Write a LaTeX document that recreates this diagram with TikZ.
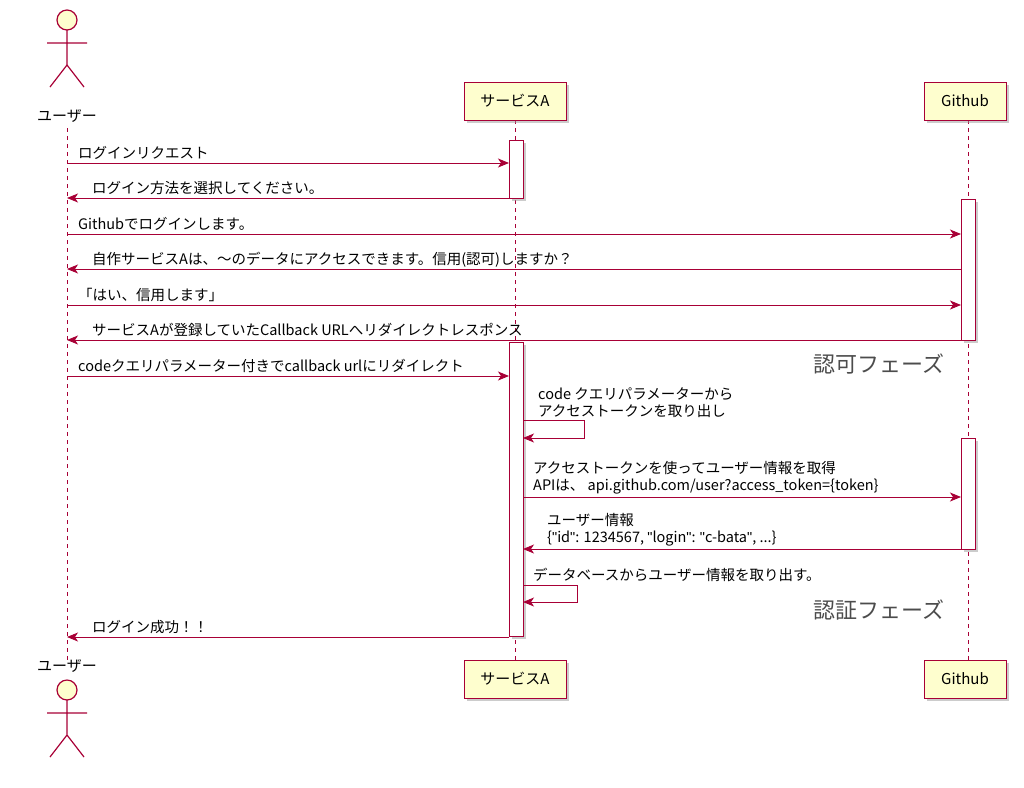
\documentclass[tikz,border=0pt]{standalone}
\usepackage{fontspec}
\setmainfont{Noto Sans CJK JP}
\newfontfamily\latinq{Liberation Sans}
\usetikzlibrary{arrows.meta,shadows}
\definecolor{pu}{HTML}{A80036}
\definecolor{bx}{HTML}{FEFECE}
\newcommand{\dq}{{\latinq\symbol{34}}}
\begin{document}
\begin{tikzpicture}[x=1pt,y=-1pt,
 part/.style={draw=pu,fill=bx,line width=1pt,minimum height=38pt,inner xsep=8pt,font=\fontsize{15}{17}\selectfont,drop shadow={shadow xshift=3pt,shadow yshift=-3pt,fill=black!40}},
 act/.style={draw=pu,fill=white,line width=1pt,drop shadow={shadow xshift=3pt,shadow yshift=-3pt,fill=black!40}},
 life/.style={draw=pu,dashed,dash pattern=on 4pt off 4pt,line width=0.8pt},
 msg/.style={draw=pu,line width=0.9pt,-{Stealth[length=11pt,width=9pt,inset=3pt]}},
 lbl/.style={anchor=base west,inner sep=0pt,font=\fontsize{14.5}{17}\selectfont,align=left},
 mlbl/.style={anchor=south west,inner sep=0pt,font=\fontsize{14.5}{17}\selectfont,align=left},
 phase/.style={anchor=base east,inner sep=0pt,text=black!70,font=\fontsize{22}{26}\selectfont},
 actor/.style={draw=pu,fill=bx,line width=1.2pt}]
\useasboundingbox (0,0) rectangle (1024,787);
% lifelines
\draw[life] (67,128) -- (67,660);
\draw[life] (515,120) -- (515,660);
\draw[life] (968,120) -- (968,660);
% participants
\node[part,minimum width=102pt] (a1) at (515,101) {サービスA};
\node[part,minimum width=82pt] (g1) at (965,101) {Github};
\node[part,minimum width=102pt] (a2) at (515,679) {サービスA};
\node[part,minimum width=82pt] (g2) at (965,679) {Github};
% actors
\foreach \y/\n in {0/top,670/bot}{
 \draw[actor] (67,20+\y) circle (10);
 \draw[pu,line width=1.2pt] (67,30+\y) -- (67,65+\y) (47,43+\y) -- (87,43+\y)
   (67,65+\y) -- (50,87+\y) (67,65+\y) -- (84,87+\y);
}
\node[font=\fontsize{15}{17}\selectfont] (u1) at (67,116) {ユーザー};
\node[font=\fontsize{15}{17}\selectfont] (u2) at (67,666) {ユーザー};
% activations
\draw[act] (509,140) rectangle (523,198);
\draw[act] (961,199) rectangle (975,340);
\draw[act] (509,342) rectangle (523,636);
\draw[act] (961,438) rectangle (975,549);
% coordinates
\coordinate (U1) at (67,163); \coordinate (A1) at (509,163);
\coordinate (U2) at (67,198); \coordinate (A2) at (509,198);
\coordinate (U3) at (67,234); \coordinate (G3) at (961,234);
\coordinate (U4) at (67,269); \coordinate (G4) at (961,269);
\coordinate (U5) at (67,305); \coordinate (G5) at (961,305);
\coordinate (U6) at (67,340); \coordinate (G6) at (961,340);
\coordinate (U7) at (67,376); \coordinate (A7) at (509,376);
\coordinate (A8) at (523,420); \coordinate (A8b) at (523,438);
\coordinate (A9) at (523,497); \coordinate (G9) at (961,497);
\coordinate (G10) at (961,549); \coordinate (A10) at (523,549);
\coordinate (A11) at (523,585); \coordinate (A11b) at (523,602);
\coordinate (A12) at (509,637); \coordinate (U12) at (67,637);
\draw[msg] (U1) -- (A1);
\node[lbl] at (78,158) {ログインリクエスト};
\draw[msg] (A2) -- (U2);
\node[lbl] at (92,193) {ログイン方法を選択してください。};
\draw[msg] (U3) -- (G3);
\node[lbl] at (78,229) {Githubでログインします。};
\draw[msg] (G4) -- (U4);
\node[lbl] at (92,264) {自作サービスAは、〜のデータにアクセスできます。信用(認可)しますか？};
\draw[msg] (U5) -- (G5);
\node[lbl] at (78,300) {「はい、信用します」};
\draw[msg] (G6) -- (U6);
\node[lbl] at (92,335) {サービスAが登録していたCallback URLへリダイレクトレスポンス};
\draw[msg] (U7) -- (A7);
\node[lbl] at (78,371) {codeクエリパラメーター付きでcallback urlにリダイレクト};
\node[phase] at (945,372) {認可フェーズ};
\draw[msg] (A8) -- (584,420) -- (584,438) -- (A8b);
\node[mlbl] at (538,418) {code クエリパラメーターから\\アクセストークンを取り出し};
\draw[msg] (A9) -- (G9);
\node[mlbl] at (533,494) {アクセストークンを使ってユーザー情報を取得\\APIは、 api.github.com/user?access\_token=\{token\}};
\draw[msg] (G10) -- (A10);
\node[mlbl] at (547,546) {ユーザー情報\\\{\dq id\dq: 1234567, \dq login\dq: \dq c-bata\dq, ...\}};
\draw[msg] (A11) -- (577,585) -- (577,602) -- (A11b);
\node[lbl] at (533,580) {データベースからユーザー情報を取り出す。};
\node[phase] at (945,618) {認証フェーズ};
\draw[msg] (A12) -- (U12);
\node[lbl] at (92,632) {ログイン成功！！};
\end{tikzpicture}
\end{document}
